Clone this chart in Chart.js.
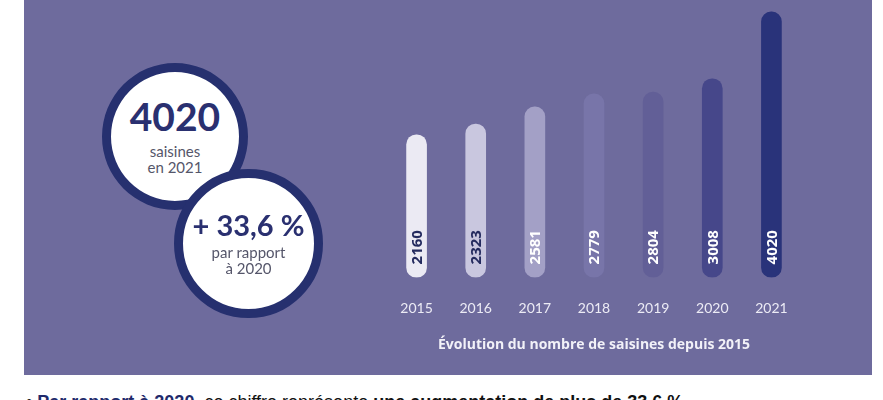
<!DOCTYPE html>
<html lang="fr">
<head>
<meta charset="utf-8">
<title>Saisines 2015-2021</title>
<script src="https://cdn.jsdelivr.net/npm/chart.js@4.4.1/dist/chart.umd.min.js"></script>
<style>
  html, body { margin: 0; padding: 0; background: #ffffff; overflow: hidden; }
  body { width: 883px; height: 400px; position: relative; }
  .panel {
    position: absolute; left: 24px; top: 0; width: 848px; height: 375px;
    background: #6e6b9d;
  }
  .chart-box { position: absolute; left: 0; top: 0; width: 883px; height: 375px; }
  .bulle {
    position: absolute; box-sizing: border-box; border-radius: 50%;
    background: #ffffff; border: 9px solid #26306f;
    font-family: Lato, "Open Sans", sans-serif; text-align: center; color: #55566a;
  }
  .bulle .gros { color: #2a3070; font-weight: 700; }
  .bulle .petit { font-size: 15px; line-height: 16px; }
  #b1 { left: 102px; top: 63px; width: 146px; height: 147px; }
  #b1 .gros { font-size: 39px; line-height: 40px; margin-top: 24px; }
  #b1 .petit { margin-top: 7px; }
  #b2 { left: 174px; top: 169px; width: 149px; height: 149px; }
  #b2 .gros { font-size: 29px; line-height: 30px; margin-top: 32px; }
  #b2 .petit { margin-top: 4px; }
  .texte-bas {
    position: absolute; left: 26px; top: 392px; white-space: nowrap;
    font-family: "Liberation Sans", Arial, sans-serif; font-size: 18px; color: #111;
  }
  .texte-bas b.bleu { color: #1f2a6b; }
</style>
</head>
<body>
<div class="panel"></div>
<div class="chart-box"><canvas id="saisines"></canvas></div>

<div class="bulle" id="b1">
  <div class="gros">4020</div>
  <div class="petit">saisines<br>en 2021</div>
</div>
<div class="bulle" id="b2">
  <div class="gros">+ 33,6 %</div>
  <div class="petit">par rapport<br>à 2020</div>
</div>

<div class="texte-bas">• <b class="bleu">Par rapport à 2020</b>, ce chiffre représente <b>une augmentation de plus de 33,6 %</b></div>

<script>
// Données
const annees = ['2015', '2016', '2017', '2018', '2019', '2020', '2021'];
const saisines = [2160, 2323, 2581, 2779, 2804, 3008, 4020];
const titreAxe = 'Évolution du nombre de saisines depuis 2015';

// Couleurs des barres (du plus clair au plus foncé) et des étiquettes
const couleursBarres = ['#ebeaf3', '#c9c7df', '#a3a0c6', '#7875a9', '#625f97', '#46478a', '#29337a'];
const couleursTextes = ['#232a5e', '#232a5e', '#ffffff', '#ffffff', '#ffffff', '#ffffff', '#ffffff'];

// Étiquettes verticales dans le bas de chaque barre
const etiquettesBarres = {
  id: 'etiquettesBarres',
  afterDatasetsDraw(chart) {
    const ctx = chart.ctx;
    const meta = chart.getDatasetMeta(0);
    meta.data.forEach((bar, i) => {
      ctx.save();
      ctx.translate(bar.x, bar.base - 13);
      ctx.rotate(-Math.PI / 2);
      ctx.font = 'bold 15px "Open Sans", sans-serif';
      ctx.fillStyle = couleursTextes[i];
      ctx.textAlign = 'left';
      ctx.textBaseline = 'middle';
      ctx.fillText(String(saisines[i]), 0, 1);
      ctx.restore();
    });
  }
};

new Chart(document.getElementById('saisines'), {
  type: 'bar',
  data: {
    labels: annees,
    datasets: [{
      data: saisines,
      backgroundColor: couleursBarres,
      borderWidth: 0,
      borderRadius: 10,
      borderSkipped: false,
      barThickness: 20,
    }],
  },
  options: {
    responsive: true,
    maintainAspectRatio: false,
    animation: false,
    layout: { padding: { left: 387, right: 82, top: 0, bottom: 22 } },
    plugins: {
      legend: { display: false },
      tooltip: { enabled: false },
    },
    scales: {
      x: {
        grid: { display: false, drawTicks: false },
        border: { display: false },
        ticks: {
          color: '#ecebf5',
          padding: 23,
          font: { family: 'Lato', size: 14 },
        },
        title: {
          display: true,
          text: titreAxe,
          color: '#f2f1f8',
          font: { family: '"Open Sans"', size: 14, weight: 'bold' },
          padding: { top: -4, bottom: 0 },
        },
      },
      y: {
        display: false,
        min: 0,
        max: 4200,
      },
    },
  },
  plugins: [etiquettesBarres],
});
</script>
</body>
</html>
